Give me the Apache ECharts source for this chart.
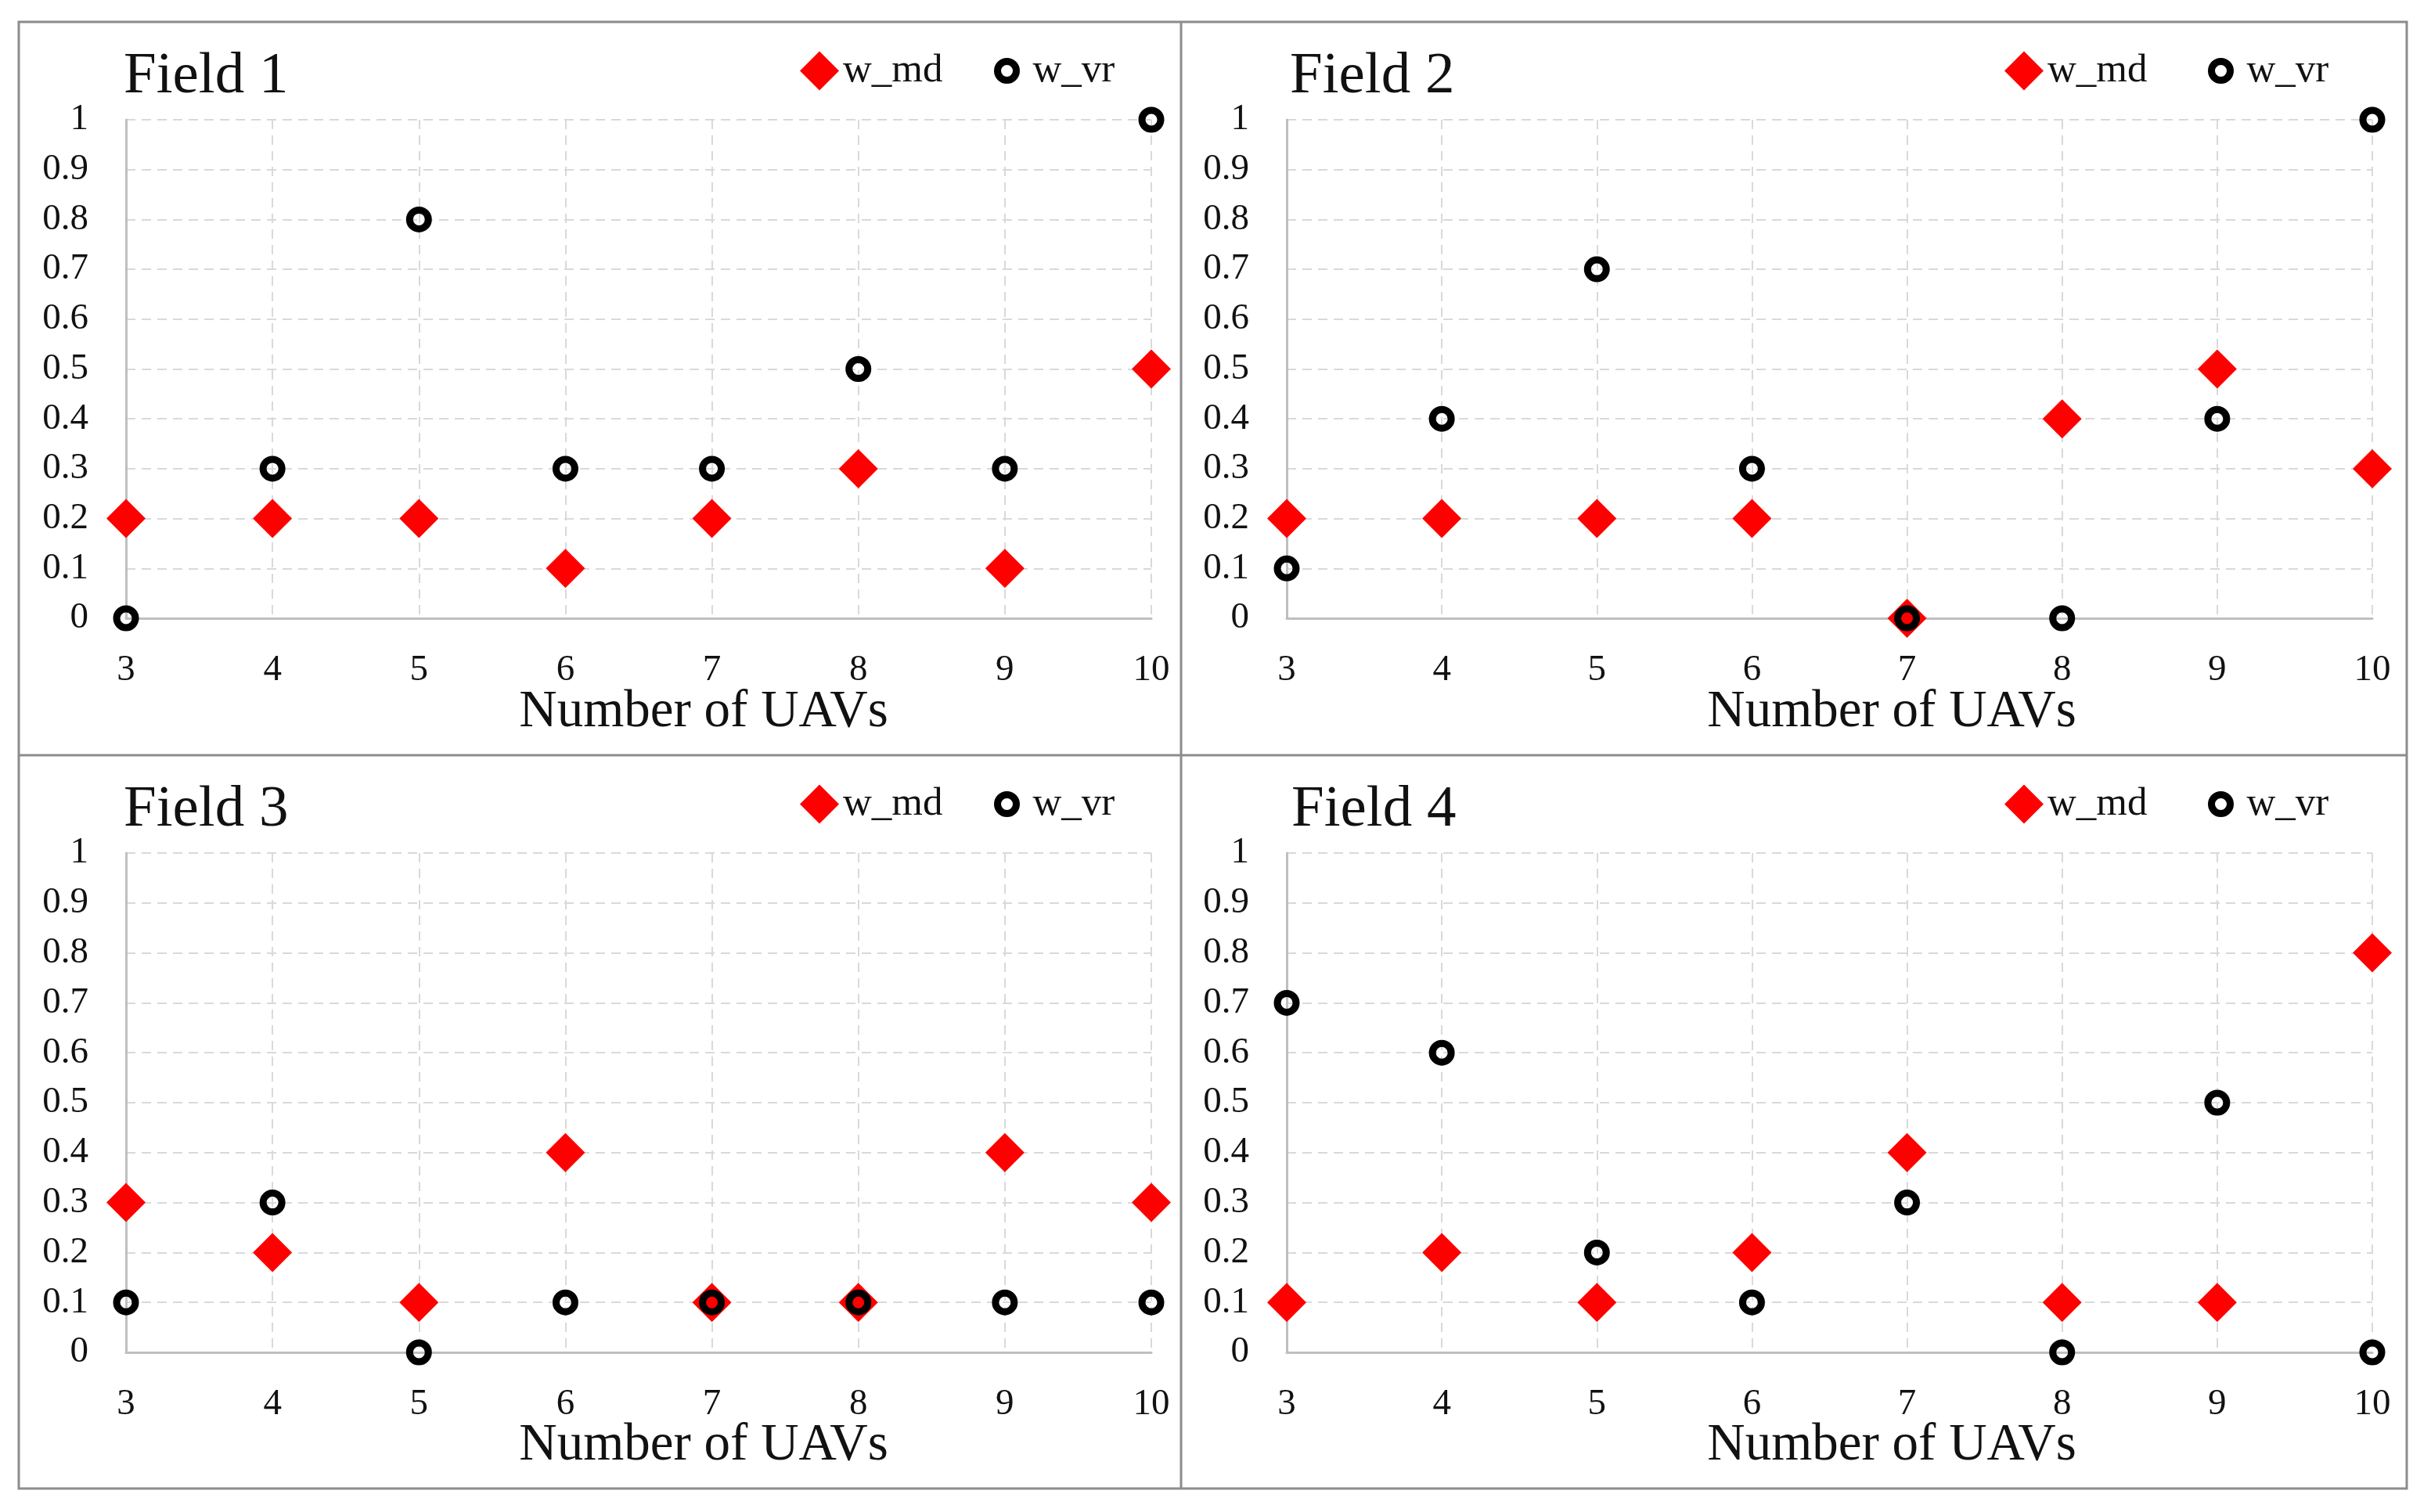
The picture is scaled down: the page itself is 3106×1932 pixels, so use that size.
<!DOCTYPE html>
<html>
<head>
<meta charset="utf-8">
<script src="https://cdn.jsdelivr.net/npm/echarts@6/dist/echarts.min.js"></script>
<style>
html,body{margin:0;padding:0;background:#fff;}
#c{width:3106px;height:1932px;}
</style>
</head>
<body>
<div id="c"></div>
<script>
// ---- data ----
const uavCounts = [3, 4, 5, 6, 7, 8, 9, 10];
const fieldNames = ['Field 1', 'Field 2', 'Field 3', 'Field 4'];
const seriesNames = ['w_md', 'w_vr'];
const yTicks = [0, 0.1, 0.2, 0.3, 0.4, 0.5, 0.6, 0.7, 0.8, 0.9, 1];
const xAxisTitle = 'Number of UAVs';

const field1_md = [0.2, 0.2, 0.2, 0.1, 0.2, 0.3, 0.1, 0.5];
const field1_vr = [0.0, 0.3, 0.8, 0.3, 0.3, 0.5, 0.3, 1.0];
const field2_md = [0.2, 0.2, 0.2, 0.2, 0.0, 0.4, 0.5, 0.3];
const field2_vr = [0.1, 0.4, 0.7, 0.3, 0.0, 0.0, 0.4, 1.0];
const field3_md = [0.3, 0.2, 0.1, 0.4, 0.1, 0.1, 0.4, 0.3];
const field3_vr = [0.1, 0.3, 0.0, 0.1, 0.1, 0.1, 0.1, 0.1];
const field4_md = [0.1, 0.2, 0.1, 0.2, 0.4, 0.1, 0.1, 0.8];
const field4_vr = [0.7, 0.6, 0.2, 0.1, 0.3, 0.0, 0.5, 0.0];

const mdValues = [field1_md, field2_md, field3_md, field4_md];
const vrValues = [field1_vr, field2_vr, field3_vr, field4_vr];

// ---- layout ----
const FONT = '"Liberation Serif", "DejaVu Serif", serif';
const panels = [
  {grid:{left:161, width:1310, top:153, height:637}, title:[158, 98], axisName:[899, 910], legMd:1022, legVr:1270, legTop:65},
  {grid:{left:1644, width:1387, top:153, height:637}, title:[1648, 98], axisName:[2417, 910], legMd:2561, legVr:2821, legTop:65},
  {grid:{left:161, width:1310, top:1090, height:638}, title:[158, 1035], axisName:[899, 1847], legMd:1022, legVr:1270, legTop:1002},
  {grid:{left:1644, width:1387, top:1090, height:638}, title:[1650, 1035], axisName:[2417, 1847], legMd:2561, legVr:2821, legTop:1002}
];

const grids = [], xAxes = [], yAxes = [], series = [], legends = [], graphics = [];
const gridLine = {show:true, lineStyle:{color:'#d9d9d9', width:2, type:[12, 8]}};

panels.forEach((p, i) => {
  grids.push(Object.assign({containLabel:false}, p.grid));
  xAxes.push({
    type:'value', gridIndex:i, min:3, max:10, interval:1,
    axisLine:{show:true, onZero:false, lineStyle:{color:'#bfbfbf', width:3}},
    axisTick:{show:false},
    axisLabel:{margin:43, color:'#111', fontFamily:FONT, fontSize:47, showMinLabel:true, showMaxLabel:true},
    splitLine:gridLine
  });
  yAxes.push({
    type:'value', gridIndex:i, min:0, max:1, interval:0.1,
    axisLine:{show:true, lineStyle:{color:'#bfbfbf', width:3}},
    axisTick:{show:false},
    axisLabel:{margin:48, color:'#111', fontFamily:FONT, fontSize:47,
      formatter: v => { const t = yTicks.find(k => Math.abs(k - v) < 1e-9); return t === undefined ? '' : String(t); }},
    splitLine:gridLine
  });
  series.push({
    name:seriesNames[0], type:'scatter', xAxisIndex:i, yAxisIndex:i, clip:false,
    symbol:'diamond', symbolSize:50, z:2,
    itemStyle:{color:'#ff0000', opacity:1},
    emphasis:{disabled:true},
    data: uavCounts.map((x, k) => [x, mdValues[i][k]])
  });
  series.push({
    name:seriesNames[1], type:'scatter', xAxisIndex:i, yAxisIndex:i, clip:false,
    symbol:'circle', symbolSize:24, z:3,
    itemStyle:{color:'rgba(0,0,0,0)', borderColor:'#000', borderWidth:9, opacity:1},
    emphasis:{disabled:true},
    data: uavCounts.map((x, k) => [x, vrValues[i][k]])
  });
  const legText = {fontFamily:FONT, fontSize:51, color:'#111', lineHeight:50};
  legends.push({
    data:[{name:seriesNames[0], icon:'diamond'}], left:p.legMd, top:p.legTop, padding:0,
    itemWidth:50, itemHeight:50, selectedMode:false, textStyle:legText,
    itemStyle:{color:'#ff0000', borderWidth:0}
  });
  legends.push({
    data:[{name:seriesNames[1], icon:'circle'}], left:p.legVr, top:p.legTop, padding:0,
    itemWidth:56, itemHeight:24, selectedMode:false, textStyle:legText,
    itemStyle:{color:'rgba(0,0,0,0)', borderColor:'#000', borderWidth:9}
  });
  graphics.push({
    type:'text', x:p.title[0], y:p.title[1],
    style:{text:fieldNames[i], fontFamily:FONT, fontSize:75, fill:'#111', align:'left', verticalAlign:'middle'}
  });
  graphics.push({
    type:'text', x:p.axisName[0], y:p.axisName[1],
    style:{text:xAxisTitle, fontFamily:FONT, fontSize:67, fill:'#111', align:'center', verticalAlign:'middle'}
  });
});

// panel borders
const BC = '#8c8c8c';
graphics.push({type:'rect', shape:{x:24, y:28, width:3051, height:1874}, style:{fill:'none', stroke:BC, lineWidth:3}, z:-1});
graphics.push({type:'line', shape:{x1:1509, y1:28, x2:1509, y2:1902}, style:{stroke:BC, lineWidth:3}, z:-1});
graphics.push({type:'line', shape:{x1:24, y1:965, x2:3075, y2:965}, style:{stroke:BC, lineWidth:3}, z:-1});

const chart = echarts.init(document.getElementById('c'), null, {renderer:'canvas'});
chart.setOption({
  backgroundColor:'#fff',
  animation:false,
  grid:grids, xAxis:xAxes, yAxis:yAxes, series:series, legend:legends, graphic:graphics
});
</script>
</body>
</html>
